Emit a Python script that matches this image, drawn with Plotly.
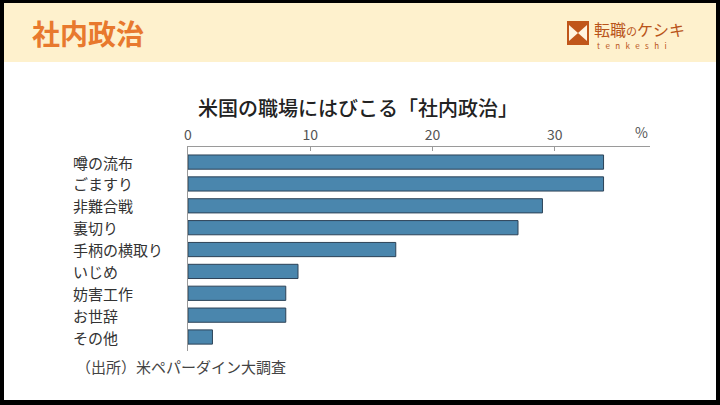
import plotly.graph_objects as go

categories = ["噂の流布", "ごますり", "非難合戦", "裏切り", "手柄の横取り", "いじめ", "妨害工作", "お世辞", "その他"]
values = [34, 34, 29, 27, 17, 9, 8, 8, 2]
tick_vals = [0, 10, 20, 30]
tick_text = ["0", "10", "20", "30"]

title_text = "米国の職場にはびこる「社内政治」"
header_text = "社内政治"
source_text = "（出所）米ペパーダイン大調査"
logo_text = "転職<span style='font-size:11px'>の</span>ケシキ"
logo_sub = "tenkeshi"

W, H = 720, 405
L, R, T, B = 188, 650, 147, 351
FONT = "Noto Sans CJK JP"


def px(x):
    return (x - L) / (R - L)


def py(y):
    return (B - y) / (B - T)


fig = go.Figure()
fig.add_trace(go.Bar(
    x=values, y=categories, orientation="h",
    marker=dict(color="#4A86AD", line=dict(color="#2C4257", width=1)),
    width=0.65, hoverinfo="x+y",
))

shapes = [
    dict(type="rect", xref="paper", yref="paper", x0=px(4), x1=px(716), y0=py(3), y1=py(400),
         fillcolor="white", line=dict(width=0), layer="below"),
    dict(type="rect", xref="paper", yref="paper", x0=px(4), x1=px(716), y0=py(3), y1=py(62),
         fillcolor="#FEF1CD", line=dict(width=0), layer="below"),
    dict(type="rect", xref="paper", yref="paper", x0=px(567), x1=px(589), y0=py(21), y1=py(45),
         fillcolor="#C0561A", line=dict(width=0), layer="above"),
    dict(type="path", xref="paper", yref="paper",
         path=f"M {px(569)} {py(25)} L {px(578)} {py(33)} L {px(569)} {py(41)} Z",
         fillcolor="#FFF4E0", line=dict(width=0), layer="above"),
    dict(type="path", xref="paper", yref="paper",
         path=f"M {px(587)} {py(25)} L {px(578)} {py(33)} L {px(587)} {py(41)} Z",
         fillcolor="#FFF4E0", line=dict(width=0), layer="above"),
]

annotations = []
for c in categories:
    annotations.append(dict(x=px(71), y=c, xref="paper", yref="y", text=c, showarrow=False,
                            xanchor="left", yanchor="middle",
                            font=dict(family=FONT, size=15, color="#333333")))

annotations += [
    dict(x=px(358), y=py(107), xref="paper", yref="paper", text=title_text, showarrow=False,
         xanchor="center", yanchor="middle", font=dict(family=FONT, size=20, color="#222222", weight=500)),
    dict(x=px(641), y=py(132), xref="paper", yref="paper", text="%", showarrow=False,
         xanchor="center", yanchor="middle", font=dict(family=FONT, size=14, color="#555555")),
    dict(x=px(74), y=py(366), xref="paper", yref="paper", text=source_text, showarrow=False,
         xanchor="left", yanchor="middle", font=dict(family=FONT, size=15, color="#444444")),
    dict(x=px(30), y=py(33), xref="paper", yref="paper", text=f"<b>{header_text}</b>", showarrow=False,
         xanchor="left", yanchor="middle", font=dict(family=FONT, size=28, color="#E8792E")),
    dict(x=px(592), y=py(28.5), xref="paper", yref="paper", text=logo_text, showarrow=False,
         xanchor="left", yanchor="middle", font=dict(family=FONT, size=16, color="#B9541A")),
    dict(x=px(595), y=py(45), xref="paper", yref="paper",
         text=("\u00a0" * 3).join(logo_sub), showarrow=False,
         xanchor="left", yanchor="middle", font=dict(family=FONT, size=8, color="#B9541A")),
]

fig.update_layout(
    width=W, height=H,
    margin=dict(l=L, r=W - R, t=T, b=H - B, pad=0),
    paper_bgcolor="black", plot_bgcolor="rgba(0,0,0,0)",
    showlegend=False, shapes=shapes, annotations=annotations,
    xaxis=dict(side="top", range=[0, 37.8], tickvals=tick_vals, ticktext=tick_text,
               showline=True, linecolor="#9A9A9A", linewidth=1, showgrid=False, zeroline=False,
               ticks="inside", ticklen=4, tickcolor="#9A9A9A",
               tickfont=dict(family=FONT, size=14, color="#555555")),
    yaxis=dict(range=[8.64, -0.69], showticklabels=False, showline=True, linecolor="#9A9A9A",
               linewidth=1, showgrid=False, zeroline=False, ticks=""),
)

fig.write_html("out.html", config={"displayModeBar": False},
               post_script="document.body.style.margin='0';document.body.style.padding='0';"
                           "document.documentElement.style.overflow='hidden';")
